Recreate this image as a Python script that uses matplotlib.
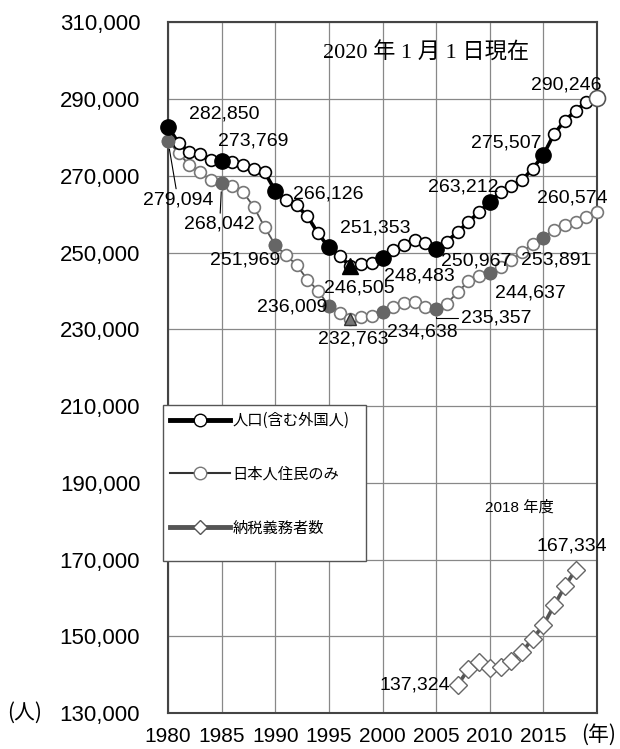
import matplotlib.pyplot as plt
from matplotlib.lines import Line2D
from matplotlib.patches import Rectangle
from matplotlib.ticker import FuncFormatter

# annual values
years = list(range(1980, 2021))
population = [282850, 278500, 276300, 275800, 274200, 273769, 273600, 272800, 271900, 271000,
              266126, 263600, 262300, 259500, 255000, 251353, 249100, 246505, 247100, 247300,
              248483, 250600, 252100, 253400, 252600, 250967, 252900, 255400, 258000, 260600,
              263212, 265800, 267300, 268900, 271900, 275507, 281000, 284400, 287000, 289300,
              290246]
japanese = [279094, 275900, 272800, 271000, 268900, 268042, 267500, 265800, 261900, 256700,
            251969, 249300, 246800, 242900, 240100, 236009, 234400, 232763, 233300, 233600,
            234638, 235900, 236900, 237200, 235800, 235357, 236700, 239700, 242500, 243800,
            244637, 246200, 248000, 250100, 252300, 253891, 256000, 257100, 258000, 259300,
            260574]
tax_years = list(range(2007, 2019))
taxpayers = [137324, 141400, 143200, 141700, 142000, 143500, 145900, 149400, 152900, 158100,
             163000, 167334]

census_years = [1980, 1985, 1990, 1995, 2000, 2005, 2010, 2015]
low_year = 1997

y_ticks = list(range(130000, 310001, 20000))
x_ticks = list(range(1980, 2021, 5))
x_labels = [str(y) for y in x_ticks[:-1]] + ['']

legend_labels = ['人口(含む外国人)', '日本人住民のみ', '納税義務者数']
title = '2020 年 1 月 1 日現在'
note = '2018 年度'

JP = ['Noto Sans CJK JP', 'DejaVu Sans']
plt.rcParams['font.family'] = ['Liberation Sans', 'Noto Sans CJK JP']

fig = plt.figure(figsize=(6.2, 7.49), dpi=100)
ax = fig.add_axes([0.271, 0.048, 0.692, 0.922])

# lines with open circles
ax.plot(years, japanese, color='#555555', lw=1.3, marker='o', ms=8.5, mfc='white',
        mec='#777777', mew=1.2, zorder=3, clip_on=False)
ax.plot(years, population, color='black', lw=2.6, marker='o', ms=8.5, mfc='white',
        mec='black', mew=1.2, zorder=4, clip_on=False)

# filled census-year markers
idx = [years.index(y) for y in census_years]
ax.plot(census_years, [japanese[i] for i in idx], 'o', color='#666666', ms=9, zorder=4,
        clip_on=False)
ax.plot(census_years, [population[i] for i in idx], 'o', color='black', ms=11, zorder=5,
        clip_on=False)
k = years.index(low_year)
ax.plot([low_year], [japanese[k]], '^', color='#777777', mec='#333333', ms=8, zorder=5)
ax.plot([low_year], [population[k]], '^', color='black', ms=12, zorder=6)
ax.plot([years[-1]], [population[-1]], 'o', color='white', mec='#555555', mew=1.2, ms=11.5,
        zorder=6, clip_on=False)

# taxpayers
ax.plot(tax_years, taxpayers, color='#555555', lw=2.6, marker='D', ms=9.5, mfc='white',
        mec='#666666', mew=1, zorder=4)

ax.set_xlim(1980, 2020)
ax.set_ylim(130000, 310000)
ax.set_xticks(x_ticks)
ax.set_xticklabels(x_labels)
ax.set_yticks(y_ticks)
ax.yaxis.set_major_formatter(FuncFormatter(lambda v, p: f'{int(v):,}'))
ax.grid(color='#888888', lw=0.9)
ax.set_axisbelow(True)
for s in ax.spines.values():
    s.set_color('#444444')
    s.set_linewidth(1.5)
ax.tick_params(axis='y', length=0, pad=20, labelsize=16)
ax.tick_params(axis='x', length=0, pad=10, labelsize=15)

# value labels (offsets in pixels)
pop_labels = {1980: (56, 13), 1985: (32, 20), 1990: (53, -3), 1995: (46, 19), 1997: (9, -22),
              2000: (37, -18), 2005: (40, -12), 2010: (-27, 15), 2015: (-37, 12), 2020: (-31, 13)}
jp_labels = {1980: (10, -59), 1985: (-2, -41), 1990: (-30, -15), 1995: (-37, -1), 1997: (3, -20),
             2000: (40, -20), 2005: (60, -9), 2010: (41, -20), 2015: (13, -22), 2020: (-25, 14)}
tax_labels = {2007: (-43, 0), 2018: (-4, 24)}
leaders = {('jp', 1980): 'arc3', ('jp', 1985): 'arc3', ('jp', 2005): 'angle,angleA=0,angleB=90,rad=0'}

def label(xs, vals, offsets, key):
    for yr, off in offsets.items():
        v = vals[xs.index(yr)]
        kw = {}
        if (key, yr) in leaders:
            kw['arrowprops'] = dict(arrowstyle='-', color='black', lw=0.8, shrinkA=0,
                                    shrinkB=6, connectionstyle=leaders[(key, yr)])
        ax.annotate(f'{v:,}', (yr, v), xytext=off, textcoords='offset pixels',
                    ha='center', va='center', fontsize=14, annotation_clip=False,
                    zorder=7, **kw)

label(years, population, pop_labels, 'pop')
label(years, japanese, jp_labels, 'jp')
label(tax_years, taxpayers, tax_labels, 'tax')

fig.text(0.687, 0.929, title, ha='center', va='center', fontsize=16,
         family=['Liberation Serif', 'Noto Sans CJK JP'])
fig.text(0.837, 0.322, note, ha='center', va='center', fontsize=11,
         family=['Liberation Sans', 'Noto Sans CJK JP'])
fig.text(0.040, 0.048, '(人)', ha='center', va='center', fontsize=15, family=JP)
fig.text(0.966, 0.019, '(年)', ha='center', va='center', fontsize=15, family=JP)

# legend box
fig.patches.append(Rectangle((0.263, 0.251), 0.327, 0.208, transform=fig.transFigure,
                             facecolor='white', edgecolor='#555555', lw=1, zorder=1))
handles = [
    Line2D([], [], color='black', lw=3.5, marker='o', ms=9, mfc='white', mec='black'),
    Line2D([], [], color='#333333', lw=1.5, marker='o', ms=9, mfc='white', mec='#777777'),
    Line2D([], [], color='#555555', lw=3.5, marker='D', ms=7, mfc='white', mec='#555555'),
]
fig.legend(handles, legend_labels, loc='upper left', bbox_to_anchor=(170 / 620, 1 - 412 / 749),
           frameon=False, borderpad=0, borderaxespad=0, handlelength=3.9, handletextpad=0.2,
           labelspacing=2.4, prop={'family': JP, 'size': 11})

fig.savefig('out.png', dpi=100)
